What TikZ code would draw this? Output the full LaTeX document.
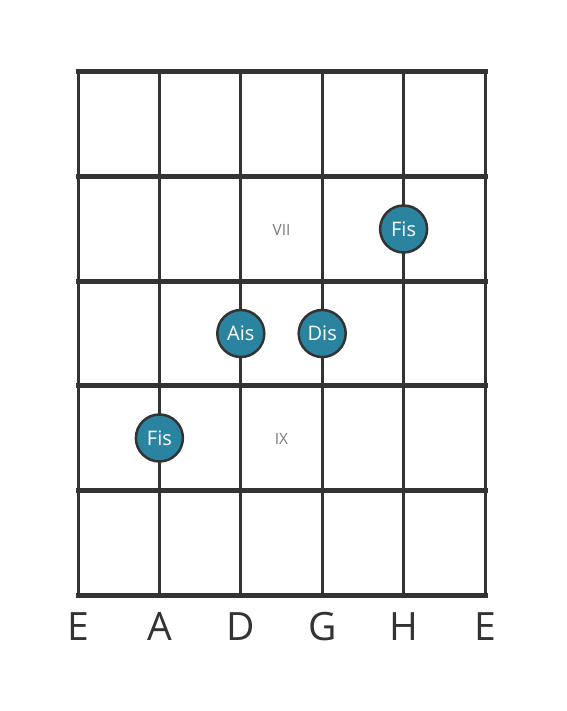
\documentclass[tikz,border=0pt]{standalone}
\usepackage{fontspec}
\setmainfont{Open Sans}
\definecolor{gridgray}{HTML}{333333}
\definecolor{dotblue}{HTML}{2A84A0}
\definecolor{labelgray}{HTML}{7A7A7A}
\tikzset{
    notedot/.style={circle, draw=gridgray, line width=2.5pt, fill=dotblue, minimum size=47pt, inner sep=0pt, text=white, font=\fontsize{20}{20}\selectfont},
    fretlabel/.style={text=labelgray, font=\fontsize{15.5}{15.5}\selectfont},
    stringname/.style={text=gridgray, font=\fontsize{39}{39}\selectfont}
}
\begin{document}
\begin{tikzpicture}[x=1pt, y=-1pt]
    \useasboundingbox (0, 0) rectangle (566, 711);
    % Strings
    \foreach \x in {78, 159.4, 240.8, 322.2, 403.6, 485} {
        \draw[gridgray, line width=3pt] (\x, 72) -- (\x, 595);
    }
    % Frets
    \foreach \y in {72, 176.6, 281.2, 385.8, 490.4, 595} {
        \draw[gridgray, line width=5pt, line cap=rect] (78, \y) -- (485, \y);
    }
    
    % Position labels
    \node[fretlabel] (vii) at (281.5, 230) {VII};
    \node[fretlabel] (ix) at (281.5, 439) {IX};
    
    % Notes
    \node[notedot] (fisH) at (403.6, 229) {Fis};
    \node[notedot] (aisD) at (240.8, 333.5) {Ais};
    \node[notedot] (disG) at (322.2, 333.5) {Dis};
    \node[notedot] (fisA) at (159.4, 438) {Fis};
    
    % String names
    \foreach \x/\n [count=\i] in {78/E, 159.4/A, 240.8/D, 322.2/G, 403.6/H, 485/E} {
        \node[stringname] (s\i) at (\x, 627) {\n};
    }
\end{tikzpicture}
\end{document}
